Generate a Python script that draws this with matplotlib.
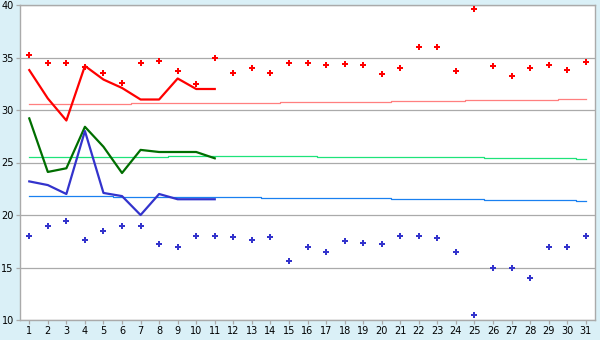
import matplotlib
matplotlib.use("Agg")
import matplotlib.pyplot as plt

days = list(range(1, 32))
day_labels = [str(d) for d in days]

# record highs (red dots)
rec_max = [35.2, 34.5, 34.5, 34.1, 33.5, 32.6, 34.5, 34.7, 33.7, 32.5,
           35.0, 33.5, 34.0, 33.5, 34.5, 34.5, 34.25, 34.35, 34.25, 33.4,
           34.0, 36.0, 36.0, 33.7, 39.6, 34.15, 33.2, 34.0, 34.25, 33.8, 34.6]
# record lows (blue dots)
rec_min = [18.0, 19.0, 19.4, 17.6, 18.5, 19.0, 19.0, 17.2, 17.0, 18.0,
           18.0, 17.9, 17.6, 17.9, 15.6, 17.0, 16.5, 17.5, 17.3, 17.2,
           18.0, 18.0, 17.8, 16.5, 10.5, 15.0, 15.0, 14.0, 17.0, 17.0, 18.0]

# observed (days 1-11)
obs_days = list(range(1, 12))
obs_max = [33.8, 31.1, 29.0, 34.2, 32.9, 32.1, 31.0, 31.0, 33.0, 32.0, 32.0]
obs_mean = [29.2, 24.1, 24.45, 28.4, 26.5, 24.0, 26.2, 26.0, 26.0, 26.0, 25.4]
obs_min = [23.2, 22.85, 22.0, 28.0, 22.1, 21.8, 20.0, 22.0, 21.5, 21.5, 21.5]

# normals
norm_max = [30.55] * 6 + [30.65] * 8 + [30.75] * 6 + [30.85] * 4 + [30.95] * 5 + [31.05] * 2
norm_mean = [25.55] * 8 + [25.62] * 8 + [25.52] * 9 + [25.42] * 5 + [25.33] * 1
norm_min = [21.8] * 5 + [21.7] * 8 + [21.6] * 7 + [21.5] * 5 + [21.4] * 5 + [21.3] * 1

y_ticks = [10, 15, 20, 25, 30, 35, 40]

bg = "#daf0f7"
grid_c = "#aaaaaa"

fig = plt.figure(figsize=(6, 3.4), dpi=100, facecolor=bg)
ax = fig.add_axes([20 / 600, 20 / 340, 575 / 600, 315 / 340])
ax.set_facecolor("white")

for y in y_ticks:
    ax.axhline(y, color=grid_c, lw=0.9, zorder=1)

ax.plot(days, norm_max, color="#ff7f7f", lw=0.9, drawstyle="steps-mid", zorder=2)
ax.plot(days, norm_mean, color="#1ee37a", lw=0.9, drawstyle="steps-mid", zorder=2)
ax.plot(days, norm_min, color="#1a80f0", lw=0.9, drawstyle="steps-mid", zorder=2)

ax.plot(obs_days, obs_max, color="#ff0000", lw=1.6, zorder=3)
ax.plot(obs_days, obs_mean, color="#006e00", lw=1.6, zorder=3)
ax.plot(obs_days, obs_min, color="#3333cc", lw=1.6, zorder=3)

ax.plot(days, rec_max, linestyle="none", marker="P", ms=4.6, color="#ff0000",
        mec="#ff0000", mew=0, zorder=4)
ax.plot(days, rec_min, linestyle="none", marker="P", ms=4.6, color="#3333cc",
        mec="#3333cc", mew=0, zorder=4)

ax.set_xlim(0.5, 31.5)
ax.set_ylim(10, 40)
ax.set_xticks(days)
ax.set_xticklabels(day_labels)
ax.set_yticks(y_ticks)
ax.set_yticklabels([str(v) for v in y_ticks])
ax.tick_params(axis="both", direction="out", length=3, width=0.9, color=grid_c,
               labelsize=7, labelcolor="black", pad=1.5)
for s in ax.spines.values():
    s.set_color(grid_c)
    s.set_linewidth(1.0)

fig.savefig("out.png", dpi=100, facecolor=bg)
